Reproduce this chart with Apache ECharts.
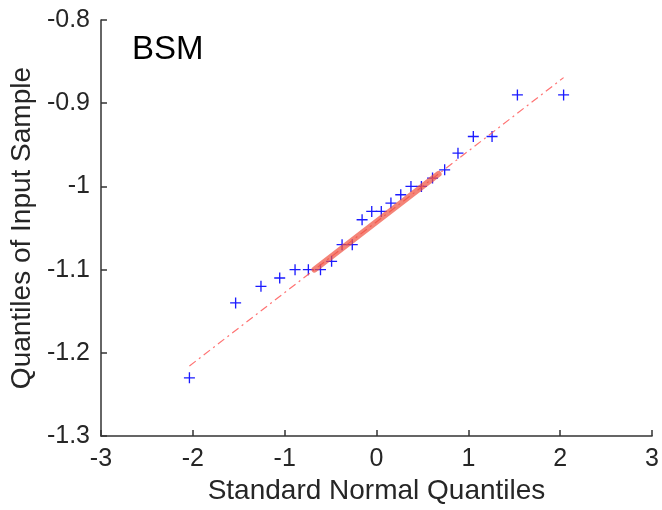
<!DOCTYPE html>
<html>
<head>
<meta charset="utf-8">
<script src="https://cdn.jsdelivr.net/npm/echarts@6/dist/echarts.min.js"></script>
<style>html,body{margin:0;padding:0;background:#fff;}#c{width:662px;height:510px;}</style>
</head>
<body>
<div id="c"></div>
<script>
// Standard normal quantiles (x) and sorted sample values (y)
const xQuantiles = [-2.037,-1.534,-1.258,-1.054,-0.887,-0.742,-0.610,-0.489,-0.375,-0.264,-0.157,-0.052,
                    0.052,0.157,0.264,0.375,0.489,0.610,0.742,0.887,1.054,1.258,1.534,2.037];
const ySample = [-1.23,-1.14,-1.12,-1.11,-1.10,-1.10,-1.10,-1.09,-1.07,-1.07,-1.04,-1.03,
                 -1.03,-1.02,-1.01,-1.00,-1.00,-0.99,-0.98,-0.96,-0.94,-0.94,-0.89,-0.89];
const xTicks = [-3,-2,-1,0,1,2,3];
const yTicks = [-1.3,-1.2,-1.1,-1.0,-0.9,-0.8];
const chartTitle = 'BSM';
const xTitle = 'Standard Normal Quantiles';
const yTitle = 'Quantiles of Input Sample';

// MATLAB-style percentile
function prctile(arr, p) {
  const a = arr.slice().sort((u, v) => u - v);
  const n = a.length;
  let pos = n * p / 100 + 0.5;
  if (pos <= 1) return a[0];
  if (pos >= n) return a[n - 1];
  const lo = Math.floor(pos), f = pos - lo;
  return a[lo - 1] + f * (a[lo] - a[lo - 1]);
}
const qx1 = prctile(xQuantiles, 25), qx3 = prctile(xQuantiles, 75);
const qy1 = prctile(ySample, 25), qy3 = prctile(ySample, 75);
const slope = (qy3 - qy1) / (qx3 - qx1);
const centerX = (qx1 + qx3) / 2, centerY = (qy1 + qy3) / 2;
const lineAt = x => centerY + slope * (x - centerX);
const xMin = Math.min(...xQuantiles), xMax = Math.max(...xQuantiles);

const font = '"Liberation Sans", Arial, Helvetica, sans-serif';
const axisColor = '#333333';
const textColor = '#262626';
const plusPath = 'path://M-10,-1.2 L10,-1.2 L10,1.2 L-10,1.2 Z M-1.2,-10 L1.2,-10 L1.2,10 L-1.2,10 Z';

const chart = echarts.init(document.getElementById('c'), null, {renderer: 'canvas'});
chart.setOption({
  animation: false,
  backgroundColor: '#fff',
  grid: {left: 100, right: 9, top: 20, bottom: 67, containLabel: false},
  xAxis: {
    type: 'value', min: xTicks[0], max: xTicks[xTicks.length - 1], interval: 1,
    name: xTitle, nameLocation: 'middle', nameGap: 38,
    nameTextStyle: {fontFamily: font, fontSize: 28, color: textColor},
    axisLine: {show: true, onZero: false, lineStyle: {color: axisColor, width: 1.5}},
    axisTick: {show: true, inside: true, length: 6, lineStyle: {color: axisColor, width: 1.5}},
    axisLabel: {fontFamily: font, fontSize: 25, color: textColor, margin: 11,
      formatter: v => String(+v.toFixed(2))},
    splitLine: {show: false}
  },
  yAxis: {
    type: 'value', min: yTicks[0], max: yTicks[yTicks.length - 1], interval: 0.1,
    name: yTitle, nameLocation: 'middle', nameGap: 55, nameRotate: 90,
    nameTextStyle: {fontFamily: font, fontSize: 28, color: textColor},
    axisLine: {show: true, onZero: false, lineStyle: {color: axisColor, width: 1.5}},
    axisTick: {show: true, inside: true, length: 6, lineStyle: {color: axisColor, width: 1.5}},
    axisLabel: {fontFamily: font, fontSize: 25, color: textColor, margin: 11,
      formatter: v => String(+v.toFixed(2))},
    splitLine: {show: false}
  },
  graphic: [{
    type: 'text', left: 132, top: 33,
    style: {text: chartTitle, fontFamily: font, fontSize: 33, fill: '#000'}
  }],
  series: [
    {
      type: 'scatter', z: 2,
      data: xQuantiles.map((x, i) => [x, ySample[i]]),
      symbol: plusPath, symbolSize: 11,
      itemStyle: {color: '#1a1aff', opacity: 1}
    },
    {
      type: 'line', z: 3, symbol: 'none', silent: true,
      data: [[xMin, lineAt(xMin)], [xMax, lineAt(xMax)]],
      lineStyle: {color: '#ff5a5a', width: 1.2, type: [8, 4, 2, 4], opacity: 0.85}
    },
    {
      type: 'line', z: 4, symbol: 'none', silent: true,
      data: [[qx1, qy1], [qx3, qy3]],
      lineStyle: {color: '#f0503f', width: 6, cap: 'round', opacity: 0.7}
    }
  ]
});
</script>
</body>
</html>
